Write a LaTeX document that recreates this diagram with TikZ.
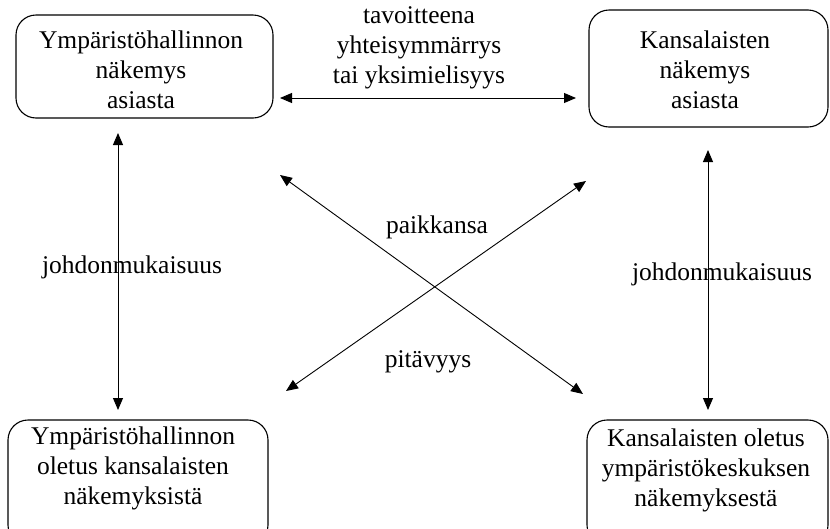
\documentclass[tikz,border=0pt]{standalone}
\usepackage{fontspec}
\setmainfont{Liberation Serif}
\usetikzlibrary{arrows.meta}
\tikzset{
  box/.style={draw, line width=1.1pt, rounded corners=20pt},
  txt/.style={align=center, inner sep=0pt, font=\fontsize{25.5}{30}\selectfont},
  lbl/.style={inner sep=0pt, font=\fontsize{25.5}{30}\selectfont},
  conn/.style={line width=0.9pt, {Triangle[length=12pt,width=10pt]}-{Triangle[length=12pt,width=10pt]}}
}
\begin{document}
\begin{tikzpicture}[x=1pt,y=-1pt]
\useasboundingbox (0,0) rectangle (830,528);
% boxes
\draw[box] (16,15) rectangle (273,118);
\draw[box] (589,10) rectangle (828,127);
\draw[box] (8,420) rectangle (268,545);
\draw[box] (587,420) rectangle (828,545);
% box texts
\node[txt] (tl) at (141,70) {Ympäristöhallinnon\\näkemys\\asiasta};
\node[txt] (tr) at (705,70) {Kansalaisten\\näkemys\\asiasta};
\node[txt] (bl) at (133,468) {Ympäristöhallinnon\\oletus kansalaisten\\näkemyksistä};
\node[txt] (br) at (706,470) {Kansalaisten oletus\\ympäristökeskuksen\\näkemyksestä};
% arrow ends
\coordinate (h1) at (280,98);
\coordinate (h2) at (576,98);
\coordinate (l1) at (118,133);
\coordinate (l2) at (118,410);
\coordinate (r1) at (708,150);
\coordinate (r2) at (708,410);
\coordinate (d1a) at (280,175);
\coordinate (d1b) at (583,394);
\coordinate (d2a) at (586,181);
\coordinate (d2b) at (286,391);
\draw[conn] (h1) -- (h2);
\draw[conn] (l1) -- (l2);
\draw[conn] (r1) -- (r2);
\draw[conn] (d1a) -- (d1b);
\draw[conn] (d2a) -- (d2b);
% labels
\node[txt] (goal) at (419,48) {tavoitteena\\yhteisymmärrys\\tai yksimielisyys};
\node[lbl] (pk) at (437,227) {paikkansa};
\node[lbl] (pv) at (428,362) {pitävyys};
\node[lbl] (jl) at (132,267) {johdonmukaisuus};
\node[lbl] (jr) at (722,274) {johdonmukaisuus};
\end{tikzpicture}
\end{document}
